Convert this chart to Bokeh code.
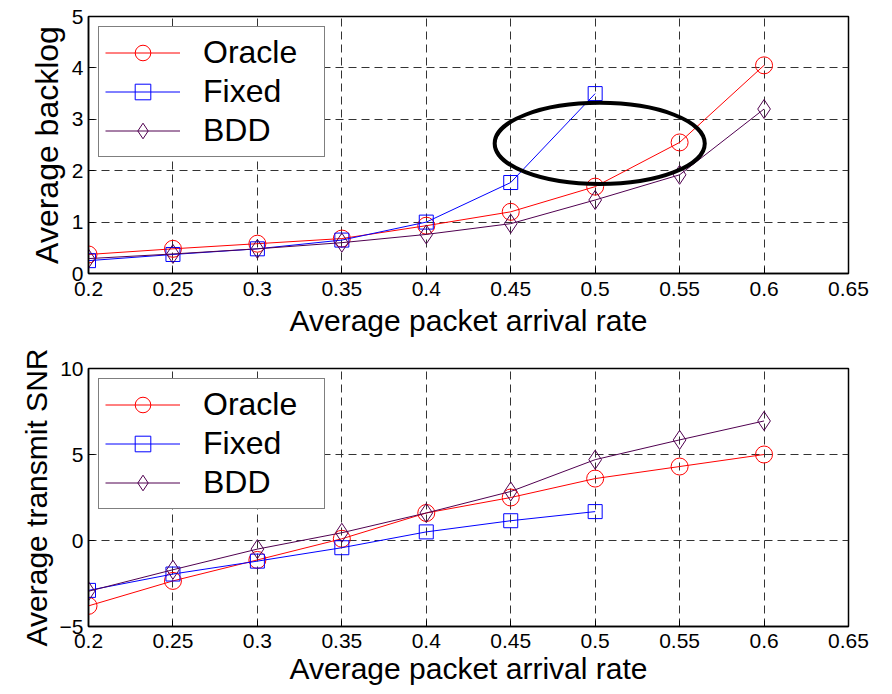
from bokeh.plotting import figure
from bokeh.models import Range1d, FixedTicker, Legend, LegendItem
from bokeh.layouts import column
from bokeh.embed import file_html
from bokeh.resources import INLINE

# ---- data ----
rate = [0.2, 0.25, 0.3, 0.35, 0.4, 0.45, 0.5, 0.55, 0.6]
rate_fixed = [0.2, 0.25, 0.3, 0.35, 0.4, 0.45, 0.5]

backlog_oracle = [0.37, 0.48, 0.58, 0.68, 0.93, 1.20, 1.69, 2.55, 4.05]
backlog_fixed = [0.25, 0.37, 0.48, 0.65, 1.00, 1.77, 3.50]
backlog_bdd = [0.29, 0.38, 0.48, 0.60, 0.76, 0.97, 1.43, 1.92, 3.20]

snr_oracle = [-3.8, -2.35, -1.13, 0.1, 1.6, 2.5, 3.6, 4.3, 5.0]
snr_fixed = [-2.9, -1.95, -1.2, -0.42, 0.5, 1.15, 1.68]
snr_bdd = [-2.95, -1.7, -0.5, 0.45, 1.6, 2.85, 4.7, 5.85, 6.95]

x_ticks = [0.2, 0.25, 0.3, 0.35, 0.4, 0.45, 0.5, 0.55, 0.6, 0.65]
x_tick_labels = ["0.2", "0.25", "0.3", "0.35", "0.4", "0.45", "0.5", "0.55", "0.6", "0.65"]
top_y_ticks = [0, 1, 2, 3, 4, 5]
bottom_y_ticks = [-5, 0, 5, 10]

# highlighted region (ellipse) in top panel
ellipse_x = [0.5027]
ellipse_y = [2.53]
ellipse_w = 0.1244
ellipse_h = 1.58

series_names = ["Oracle", "Fixed", "BDD"]
series_colors = ["#FF0000", "#0000FF", "#500050"]
series_markers = ["circle", "square", "diamond"]
series_sizes = [17, 14, 19]

FONT = "Liberation Sans"


def make_fig(frame_h, border_top, border_bottom, y_range, y_ticks, y_label, ys, xs_list,
             tick_standoff, title_standoff, title_size, ylabel_size):
    p = figure(frame_width=760, frame_height=frame_h, output_backend="svg",
               toolbar_location=None,
               x_range=Range1d(0.2, 0.65), y_range=Range1d(*y_range),
               min_border_left=88, min_border_right=32, min_border_top=border_top,
               min_border_bottom=border_bottom)
    p.background_fill_color = "white"
    p.border_fill_color = "white"
    p.outline_line_color = "black"
    p.outline_line_width = 1.5

    p.xaxis.ticker = FixedTicker(ticks=x_ticks)
    p.xaxis.major_label_overrides = {t: l for t, l in zip(x_ticks, x_tick_labels)}
    p.yaxis.ticker = FixedTicker(ticks=y_ticks)

    for ax in (p.xaxis[0], p.yaxis[0]):
        ax.major_tick_in = 6
        ax.major_tick_out = 0
        ax.minor_tick_line_color = None
        ax.axis_line_color = "black"
        ax.axis_line_width = 1.5
        ax.major_tick_line_color = "black"
        ax.major_label_text_font = FONT
        ax.major_label_text_font_size = "21px"
        ax.major_label_text_color = "black"
        ax.axis_label_text_font = FONT
        ax.axis_label_text_font_style = "normal"
        ax.axis_label_text_color = "black"

    p.xaxis.axis_label = "Average packet arrival rate"
    p.xaxis.axis_label_text_font_size = f"{title_size}px"
    p.xaxis.major_label_standoff = tick_standoff
    p.xaxis.axis_label_standoff = title_standoff
    p.yaxis.axis_label = y_label
    p.yaxis.axis_label_text_font_size = f"{ylabel_size}px"
    p.yaxis.major_label_standoff = 5
    p.yaxis.axis_label_standoff = 4

    for g in (p.xgrid[0], p.ygrid[0]):
        g.grid_line_color = "#333333"
        g.grid_line_dash = "8 5"
        g.grid_line_width = 1

    items = []
    for name, color, marker, size, yv, xv in zip(series_names, series_colors,
                                                 series_markers, series_sizes, ys, xs_list):
        lr = p.line(xv, yv, line_color=color, line_width=1)
        sr = p.scatter(xv, yv, marker=marker, size=size, line_color=color,
                       fill_color=None, line_width=1)
        items.append(LegendItem(label=name, renderers=[lr, sr]))

    legend = Legend(items=items, location="top_left", margin=10, padding=6,
                    spacing=0, glyph_width=75, glyph_height=39, label_height=39,
                    label_width=115, label_standoff=23,
                    label_text_font=FONT, label_text_font_size="32px",
                    label_text_color="black",
                    border_line_color="black", border_line_width=1.2,
                    background_fill_color="white", background_fill_alpha=1.0)
    p.add_layout(legend)
    return p


p1 = make_fig(257, 16, 73, (0, 5), top_y_ticks, "Average backlog",
              [backlog_oracle, backlog_fixed, backlog_bdd], [rate, rate_fixed, rate],
              tick_standoff=8, title_standoff=5, title_size=30, ylabel_size=32)
p1.ellipse(x=ellipse_x, y=ellipse_y, width=ellipse_w, height=ellipse_h,
           fill_color=None, line_color="black", line_width=4)

p2 = make_fig(258, 22, 68, (-5, 10), bottom_y_ticks, "Average transmit SNR",
              [snr_oracle, snr_fixed, snr_bdd], [rate, rate_fixed, rate],
              tick_standoff=7, title_standoff=1, title_size=30, ylabel_size=30)

layout = column(p1, p2, spacing=0)
open("out.html", "w").write(file_html(layout, INLINE))
